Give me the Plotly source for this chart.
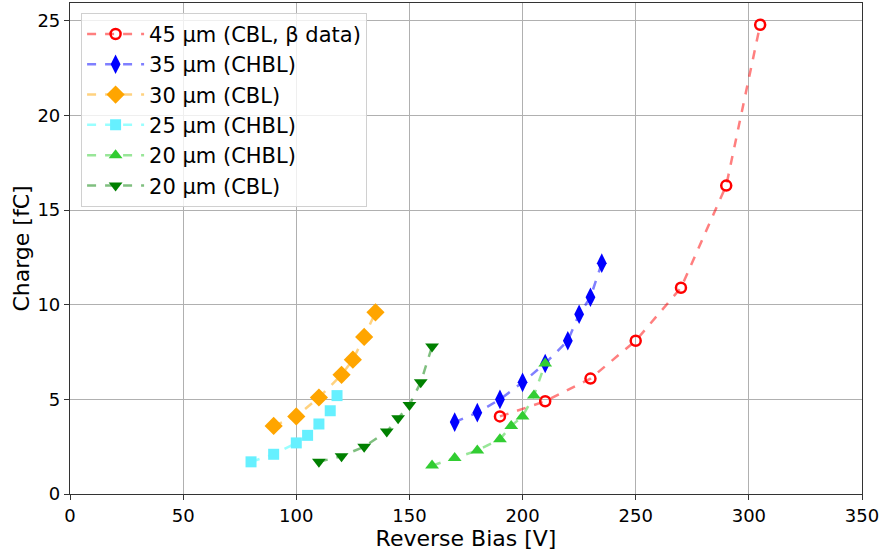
import plotly.graph_objects as go

# Data
bias_45 = [190, 210, 230, 250, 270, 290, 305]
charge_45 = [4.1, 4.9, 6.1, 8.1, 10.9, 16.3, 24.8]

bias_35 = [170, 180, 190, 200, 210, 220, 225, 230, 235]
charge_35 = [3.8, 4.3, 5.0, 5.9, 6.9, 8.1, 9.5, 10.4, 12.2]

bias_30 = [90, 100, 110, 120, 125, 130, 135]
charge_30 = [3.6, 4.1, 5.1, 6.3, 7.1, 8.3, 9.6]

bias_25 = [80, 90, 100, 105, 110, 115, 118]
charge_25 = [1.7, 2.1, 2.7, 3.1, 3.7, 4.4, 5.2]

bias_20h = [160, 170, 180, 190, 195, 200, 205, 210]
charge_20h = [1.5, 1.9, 2.3, 2.9, 3.6, 4.1, 5.2, 6.9]

bias_20c = [110, 120, 130, 140, 145, 150, 155, 160]
charge_20c = [1.7, 2.0, 2.5, 3.3, 4.0, 4.7, 5.9, 7.8]

x_ticks = [0, 50, 100, 150, 200, 250, 300, 350]
y_ticks = [0, 5, 10, 15, 20, 25]

series = [
    ("45 µm (CBL, β data)", bias_45, charge_45, "rgba(255,0,0,0.5)", "circle-open", "red", 10),
    ("35 µm (CHBL)", bias_35, charge_35, "rgba(0,0,255,0.5)", "diamond-tall", "blue", 14),
    ("30 µm (CBL)", bias_30, charge_30, "rgba(255,165,0,0.5)", "diamond", "orange", 14),
    ("25 µm (CHBL)", bias_25, charge_25, "rgba(0,255,255,0.4)", "square", "rgba(102,240,255,1)", 11),
    ("20 µm (CHBL)", bias_20h, charge_20h, "rgba(50,205,50,0.5)", "triangle-up", "limegreen", 12),
    ("20 µm (CBL)", bias_20c, charge_20c, "rgba(0,128,0,0.5)", "triangle-down", "green", 12),
]

fig = go.Figure()
for name, xs, ys, lc, sym, mc, ms in series:
    marker = dict(symbol=sym, size=ms, color=mc)
    if sym == "circle-open":
        marker["line"] = dict(width=2.5, color=mc)
    else:
        marker["line"] = dict(width=0)
    fig.add_trace(go.Scatter(
        x=xs, y=ys, name=name, mode="lines+markers",
        line=dict(color=lc, dash="dash", width=2.5),
        marker=marker,
    ))

font = "DejaVu Sans, sans-serif"
fig.update_layout(
    width=886, height=552,
    margin=dict(l=70, r=24, t=3, b=58),
    plot_bgcolor="white", paper_bgcolor="white",
    font=dict(family=font, size=18, color="black"),
    legend=dict(
        x=0.014, y=0.98, xanchor="left", yanchor="top",
        bgcolor="rgba(255,255,255,0.8)", bordercolor="#d0d0d0", borderwidth=1,
        font=dict(size=21), tracegroupgap=0, itemwidth=57,
    ),
    showlegend=True,
)
fig.update_xaxes(
    range=[0, 350], tickvals=x_ticks, ticktext=[str(v) for v in x_ticks],
    showgrid=True, gridcolor="#b0b0b0", gridwidth=1,
    showline=True, linecolor="#333", linewidth=1.2, mirror=True,
    ticks="outside", ticklen=5, tickcolor="#333",
    title=dict(text="Reverse Bias [V]", standoff=4), zeroline=False,
)
fig.update_yaxes(
    range=[0, 25.95], tickvals=y_ticks, ticktext=[str(v) for v in y_ticks],
    showgrid=True, gridcolor="#b0b0b0", gridwidth=1,
    showline=True, linecolor="#333", linewidth=1.2, mirror=True,
    ticks="outside", ticklen=5, tickcolor="#333",
    title=dict(text="Charge [fC]", standoff=1), zeroline=False,
)

fig.write_html("out.html")
